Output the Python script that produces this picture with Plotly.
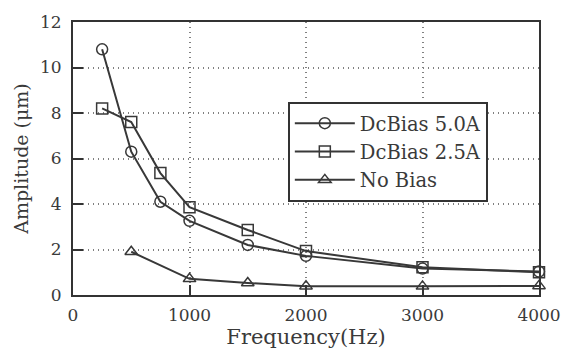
import plotly.graph_objects as go

freq = [250, 500, 750, 1000, 1500, 2000, 3000, 4000]
dc50 = [10.8, 6.3, 4.1, 3.26, 2.2, 1.72, 1.16, 1.03]
dc25 = [8.2, 7.6, 5.36, 3.86, 2.86, 1.93, 1.22, 1.0]
freq_nb = [500, 1000, 1500, 2000, 3000, 4000]
nobias = [1.9, 0.71, 0.53, 0.39, 0.38, 0.4]

names = ["DcBias 5.0A", "DcBias 2.5A", "No Bias"]
symbols = ["circle-open", "square-open", "triangle-up-open"]

line_col = "#383838"
text_col = "#3a3a3a"
font = "DejaVu Serif"

fig = go.Figure()
for xs, ys, nm, sym in [(freq, dc50, names[0], symbols[0]),
                        (freq, dc25, names[1], symbols[1]),
                        (freq_nb, nobias, names[2], symbols[2])]:
    fig.add_trace(go.Scatter(
        x=xs, y=ys, name=nm, mode="lines+markers",
        line=dict(color=line_col, width=2),
        marker=dict(symbol=sym, size=11, color=line_col,
                    line=dict(color=line_col, width=1.5)),
        cliponaxis=False,
    ))

fig.update_layout(
    width=573, height=358,
    margin=dict(l=73, r=29, t=15, b=63),
    paper_bgcolor="white", plot_bgcolor="white",
    font=dict(family=font, color=text_col, size=17),
    showlegend=True,
    legend=dict(x=0.461, y=0.707, xanchor="left", yanchor="top",
                bgcolor="white", bordercolor="#333333", borderwidth=2,
                font=dict(family=font, size=19.5, color=text_col),
                tracegroupgap=0, itemwidth=60),
)
fig.update_xaxes(
    range=[0, 4000], tickvals=[0, 1000, 2000, 3000, 4000],
    ticks="inside", ticklen=10, tickwidth=2, tickcolor="#333333",
    showgrid=True, gridcolor="#808080", griddash="1px,4px", gridwidth=1.5,
    showline=True, linecolor="#333333", linewidth=2, mirror=True,
    zeroline=False, ticklabelstandoff=4,
    tickfont=dict(family=font, size=17),
    title=dict(text="Frequency(Hz)", font=dict(family=font, size=21), standoff=5),
)
fig.update_yaxes(
    range=[0, 12], tickvals=[0, 2, 4, 6, 8, 10, 12],
    ticks="inside", ticklen=10, tickwidth=2, tickcolor="#333333",
    showgrid=True, gridcolor="#808080", griddash="1px,4px", gridwidth=1.5,
    showline=True, linecolor="#333333", linewidth=2, mirror=True,
    zeroline=False, ticklabelstandoff=6,
    tickfont=dict(family=font, size=17),
    title=dict(text="Amplitude (\u03bcm)", font=dict(family=font, size=19), standoff=6),
)

fig.write_html("out.html")
